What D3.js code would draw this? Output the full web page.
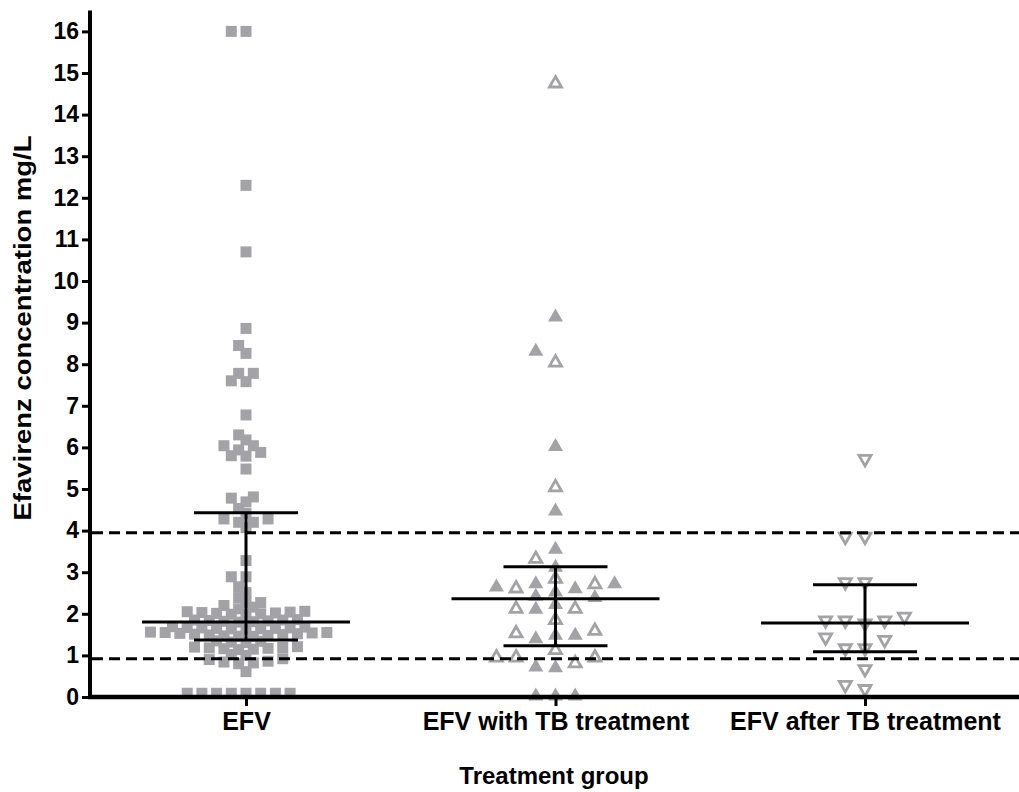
<!DOCTYPE html>
<html>
<head>
<meta charset="utf-8">
<script src="https://cdn.jsdelivr.net/npm/d3@7"></script>
<style>
    body { margin: 0; background: #fff; }
    text { font-family: "Liberation Sans", Arial, sans-serif; font-weight: bold; fill: #000; }
</style>
</head>
<body>
<div id="chart"></div>
<script>
var groups = ["EFV", "EFV with TB treatment", "EFV after TB treatment"];

// EFV alone (squares)
var efv = [16.0, 16.0, 12.3, 10.7, 8.86, 8.45, 8.26, 7.78, 7.78, 7.60, 7.58, 6.78, 6.30, 6.18,
    6.04, 6.04, 5.94, 5.88, 5.80, 5.79, 5.48, 4.81, 4.78, 4.69, 4.53, 4.41, 4.28, 4.28, 4.20,
    4.20, 4.07, 3.28, 2.89, 2.89, 2.65, 2.51, 2.39, 2.27, 2.27, 2.20, 2.16, 2.12,
    2.06, 2.05, 2.04, 2.03, 2.02, 2.01, 2.00, 1.99, 1.98,
    1.86, 1.85, 1.85, 1.84, 1.83, 1.82, 1.81, 1.80,
    1.69, 1.68, 1.67, 1.66, 1.66, 1.65, 1.65, 1.64, 1.64, 1.63,
    1.56, 1.55, 1.55, 1.54, 1.53, 1.52, 1.51, 1.50, 1.49, 1.48, 1.47, 1.46, 1.46,
    1.35, 1.34, 1.32, 1.31, 1.21, 1.20, 1.19, 1.18, 1.17, 1.16, 1.15, 1.14, 1.02, 1.00,
    0.92, 0.90, 0.86, 0.84, 0.82, 0.80, 0.61,
    0.09, 0.09, 0.09, 0.09, 0.09, 0.09, 0.09, 0.09];

// EFV with TB treatment (filled and open up-triangles)
var tbFilled = [9.18, 8.36, 6.07, 4.52, 3.60, 3.17, 2.77, 2.69, 2.65, 2.77, 2.57, 2.47, 2.44,
    2.27, 2.16, 1.53, 1.45, 1.53, 0.77, 0.75, 0.07, 0.07, 0.07];
var tbOpen = [14.79, 8.08, 5.08, 3.36, 2.88, 2.65, 2.75, 2.16, 2.16, 1.89, 1.63, 1.57, 1.17,
    0.99, 0.99, 0.99, 0.85];

// EFV after TB treatment (open down-triangles)
var afterTb = [5.68, 3.81, 3.81, 2.72, 2.72, 1.80, 1.80, 1.73, 1.80, 1.89, 1.33, 1.39, 1.13,
    1.13, 0.63, 0.15, 0.25];

// median and interquartile range per group
var medians = [1.80, 2.36, 1.78];
var q1 = [1.37, 1.23, 1.09];
var q3 = [4.43, 3.13, 2.70];

// dashed reference lines
var refLines = [3.95, 0.92];

var yTicks = d3.range(0, 17);

var width = 1019;
var height = 792;
var grey = "#a3a3a7";

var svg = d3.select("#chart")
    .append("svg")
    .attr("width", width)
    .attr("height", height);

var y = d3.scaleLinear()
    .domain([0, 16.5])
    .range([697, 10.6]);

var x = d3.scalePoint()
    .domain(groups)
    .range([246, 865]);

// spread points sideways; with half steps a point may sit half a column over
// if it is at least half the gap away from its neighbour
function swarm(items, slotW, minDx, minDy, half) {
    var sorted = items.slice().sort(function (a, b) { return a.v - b.v; });
    var placed = [];
    var div = half ? 2 : 1;
    sorted.forEach(function (d) {
        var py = y(d.v);
        for (var k = 0; k < 80; k++) {
            var step = (k % 2 == 1) ? -(k + 1) / 2 : k / 2;
            var dx = step * slotW / div;
            var clash = placed.some(function (p) {
                var ax = Math.abs(p.dx - dx), ay = Math.abs(p.py - py);
                if (ax < slotW / 4) return ay < minDy;
                return ax < minDx && ay < minDy / 2;
            });
            if (!clash) {
                placed.push({v: d.v, filled: d.filled, py: py, dx: dx});
                break;
            }
        }
    });
    return placed;
}

function tri(w, h, down) {
    var s = down ? -1 : 1;
    return "M0," + (-s * h / 2) + "L" + (w / 2) + "," + (s * h / 2) + "L" + (-w / 2) + "," + (s * h / 2) + "Z";
}

// markers
var efvPts = swarm(efv.map(function (v) { return {v: v}; }), 14.7, 12, 8.5, true);
svg.append("g").selectAll("rect")
    .data(efvPts)
    .enter()
    .append("rect")
    .attr("x", function (d) { return x(groups[0]) + d.dx - 5.5; })
    .attr("y", function (d) { return y(d.v) - 5.5; })
    .attr("width", 11)
    .attr("height", 11)
    .attr("fill", grey);

var tbItems = tbFilled.map(function (v) { return {v: v, filled: true}; })
    .concat(tbOpen.map(function (v) { return {v: v, filled: false}; }));
var tbPts = swarm(tbItems, 19.7, 15, 12, false);
svg.append("g").selectAll("path")
    .data(tbPts)
    .enter()
    .append("path")
    .attr("transform", function (d) { return "translate(" + (x(groups[1]) + d.dx) + "," + y(d.v) + ")"; })
    .attr("d", function (d) { return d.filled ? tri(15, 13, false) : tri(12, 10.5, false); })
    .attr("fill", function (d) { return d.filled ? grey : "#fff"; })
    .attr("stroke", grey)
    .attr("stroke-width", function (d) { return d.filled ? 0 : 2.8; })
    .attr("stroke-linejoin", "miter");

var afterPts = swarm(afterTb.map(function (v) { return {v: v}; }), 19.7, 15, 12, false);
svg.append("g").selectAll("path")
    .data(afterPts)
    .enter()
    .append("path")
    .attr("transform", function (d) { return "translate(" + (x(groups[2]) + d.dx) + "," + y(d.v) + ")"; })
    .attr("d", tri(12, 10.5, true))
    .attr("fill", "#fff")
    .attr("stroke", grey)
    .attr("stroke-width", 2.8);

// reference lines
svg.append("g").selectAll("line")
    .data(refLines)
    .enter()
    .append("line")
    .attr("x1", 92)
    .attr("x2", width)
    .attr("y1", function (d) { return y(d); })
    .attr("y2", function (d) { return y(d); })
    .attr("stroke", "#000")
    .attr("stroke-width", 3)
    .attr("stroke-dasharray", "11,6");

// median with interquartile range
var bars = svg.append("g").attr("stroke", "#000").attr("stroke-width", 3);
groups.forEach(function (g, i) {
    var cx = x(g);
    bars.append("line")
        .attr("x1", cx).attr("x2", cx)
        .attr("y1", y(q1[i])).attr("y2", y(q3[i]));
    bars.append("line")
        .attr("x1", cx - 104).attr("x2", cx + 104)
        .attr("y1", y(medians[i])).attr("y2", y(medians[i]));
    [q1[i], q3[i]].forEach(function (q) {
        bars.append("line")
            .attr("x1", cx - 52).attr("x2", cx + 52)
            .attr("y1", y(q)).attr("y2", y(q));
    });
});

// axes
var yAxis = d3.axisLeft(y)
    .tickValues(yTicks)
    .tickSize(8)
    .tickPadding(3)
    .tickFormat(d3.format("d"));

var gy = svg.append("g")
    .attr("transform", "translate(90,0)")
    .call(yAxis);
gy.select(".domain").remove();
gy.selectAll(".tick line").attr("stroke", "#000").attr("stroke-width", 3);
gy.selectAll(".tick text").style("font-size", "23px").attr("font-family", null);

var xAxis = d3.axisBottom(x)
    .tickSize(9)
    .tickPadding(6);

var gx = svg.append("g")
    .attr("transform", "translate(0,697)")
    .call(xAxis);
gx.select(".domain").remove();
gx.selectAll(".tick line").attr("stroke", "#000").attr("stroke-width", 3);
gx.selectAll(".tick text").style("font-size", "25px").attr("font-family", null);

svg.append("line")
    .attr("x1", 90).attr("x2", 90)
    .attr("y1", y(16.5)).attr("y2", 699)
    .attr("stroke", "#000")
    .attr("stroke-width", 4);

svg.append("line")
    .attr("x1", 88).attr("x2", width)
    .attr("y1", 697).attr("y2", 697)
    .attr("stroke", "#000")
    .attr("stroke-width", 4.5);

// titles
svg.append("text")
    .attr("x", 554)
    .attr("y", 784)
    .attr("text-anchor", "middle")
    .style("font-size", "24px")
    .text("Treatment group");

svg.append("text")
    .attr("transform", "translate(31,328) rotate(-90)")
    .attr("text-anchor", "middle")
    .attr("textLength", 385)
    .attr("lengthAdjust", "spacingAndGlyphs")
    .style("font-size", "24px")
    .text("Efavirenz concentration mg/L");
</script>
</body>
</html>
